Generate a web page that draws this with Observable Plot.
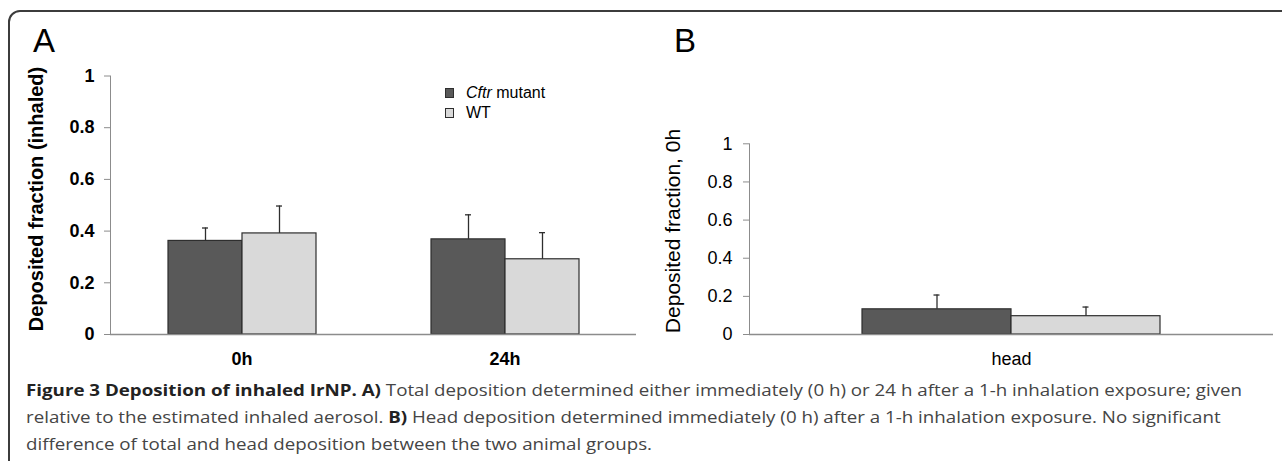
<!DOCTYPE html>
<html><head><meta charset="utf-8">
<script src="https://cdn.jsdelivr.net/npm/d3@7"></script>
<script src="https://cdn.jsdelivr.net/npm/@observablehq/plot@0.6"></script>
<style>
html,body{margin:0;padding:0;background:#fff;}
#fig{position:relative;width:1282px;height:461px;overflow:hidden;font-family:"Liberation Sans",Arial,sans-serif;background:#fff;}
#box{position:absolute;left:8px;top:10px;width:1320px;height:520px;border:2px solid #3c3c3c;border-top-left-radius:12px;box-sizing:border-box;}
.panel{position:absolute;top:0;}
.panel svg text{fill:#000;}
.letter{position:absolute;font-size:33px;line-height:33px;color:#000;}
.ytitle{position:absolute;white-space:nowrap;transform:translate(-50%,-50%) rotate(-90deg);line-height:20px;color:#000;}
.sw{position:absolute;width:9px;height:10px;border:1px solid #2e2e2e;box-sizing:border-box;}
.lt{position:absolute;font-size:16px;line-height:16px;color:#000;white-space:nowrap;}
#caption{position:absolute;left:26px;top:376px;font-family:"Open Sans",sans-serif;font-size:16.5px;line-height:27px;color:#454545;white-space:nowrap;transform-origin:0 0;}
#caption b{color:#222;font-weight:700;}
#caption .ln{display:block;}
</style>
</head><body>
<div id="fig">
  <div id="box"></div>
  <div class="letter" style="left:33px;top:24px;">A</div>
  <div class="letter" style="left:674px;top:24px;">B</div>
  <div class="ytitle" style="left:36px;top:199px;font-size:20px;font-weight:bold;">Deposited fraction (inhaled)</div>
  <div class="ytitle" style="left:673px;top:231px;font-size:21px;">Deposited fraction, 0h</div>
  <div id="panelA" class="panel" style="left:0px;"></div>
  <div id="panelB" class="panel" style="left:640px;"></div>
  <div class="sw" style="left:445px;top:88px;background:#595959;"></div>
  <div class="lt" style="left:466px;top:84.5px;"><i>Cftr</i> mutant</div>
  <div class="sw" style="left:445px;top:108px;background:#d9d9d9;"></div>
  <div class="lt" style="left:466px;top:104.5px;">WT</div>
  <div id="caption"><span class="ln"><span id="firstLine"><b>Figure 3 Deposition of inhaled IrNP. A)</b> Total deposition determined either immediately (0 h) or 24 h after a 1-h inhalation exposure; given</span></span><span class="ln">relative to the estimated inhaled aerosol. <b>B)</b> Head deposition determined immediately (0 h) after a 1-h inhalation exposure. No significant</span><span class="ln">difference of total and head deposition between the two animal groups.</span></div>
</div>
<script>
// ---- data ----
const times = ["0h", "24h"];
const genotypes = ["Cftr mutant", "WT"];
const totalMutant = [0.362, 0.368];
const totalWT = [0.391, 0.291];
const totalMutantErr = [0.050, 0.095];
const totalWTErr = [0.106, 0.103];
const regions = ["head"];
const headMutant = [0.132];
const headWT = [0.096];
const headMutantErr = [0.075];
const headWTErr = [0.048];
const yTicks = [0, 0.2, 0.4, 0.6, 0.8, 1];
const yTickLabels = ["0", "0.2", "0.4", "0.6", "0.8", "1"];
const barColors = ["#595959", "#d9d9d9"];

function rows(cats, m, w, me, we) {
  return cats.flatMap((c, i) => [
    {cat: c, g: genotypes[0], v: m[i], e: me[i]},
    {cat: c, g: genotypes[1], v: w[i], e: we[i]}
  ]);
}

function panel(o) {
  const data = o.data;
  return Plot.plot({
    width: o.width, height: o.height,
    marginLeft: o.marginLeft, marginRight: o.marginRight,
    marginTop: o.marginTop, marginBottom: o.marginBottom,
    style: {fontFamily: '"Liberation Sans", Arial, sans-serif', fontSize: "18px", fontWeight: o.weight, color: "#8c8c8c", background: "transparent", overflow: "visible"},
    facet: {data, x: "cat"},
    fx: {domain: o.cats, axis: "bottom", label: null, tickSize: 0, tickPadding: 18, padding: 0},
    x: {domain: genotypes, axis: null, paddingInner: 0, paddingOuter: o.paddingOuter, align: 0.5},
    y: {domain: [0, 1], ticks: yTicks, tickFormat: d => yTickLabels[yTicks.indexOf(d)], tickSize: 6, tickPadding: o.tickPadding, line: true, label: null},
    color: {domain: genotypes, range: barColors},
    marks: [
      Plot.barY(data, {x: "g", y: "v", fill: "g", stroke: "#2e2e2e", strokeWidth: 1.2}),
      Plot.ruleX(data, {x: "g", y1: "v", y2: d => d.v + d.e, stroke: "#2e2e2e", strokeWidth: 1.3}),
      Plot.tickY(data, {x: "g", y: d => d.v + d.e, stroke: "#2e2e2e", strokeWidth: 1.3, insetLeft: o.capInset, insetRight: o.capInset}),
      Plot.ruleY([0], {stroke: "#8c8c8c", strokeWidth: 1.3})
    ]
  });
}

document.getElementById("panelA").appendChild(panel({
  data: rows(times, totalMutant, totalWT, totalMutantErr, totalWTErr),
  cats: times, width: 645, height: 375, marginLeft: 109, marginRight: 9,
  marginTop: 75.5, marginBottom: 41, paddingOuter: 0.757, capInset: 34, weight: "bold", tickPadding: 10
}));
document.getElementById("panelB").appendChild(panel({
  data: rows(regions, headMutant, headWT, headMutantErr, headWTErr),
  cats: regions, width: 642, height: 375, marginLeft: 109, marginRight: 9,
  marginTop: 143.3, marginBottom: 41, paddingOuter: 0.747, capInset: 71.5, weight: "normal", tickPadding: 11
}));

// stretch caption horizontally so line 1 spans the same width as the reference
const fl = document.getElementById("firstLine").getBoundingClientRect().width;
if (fl > 0) document.getElementById("caption").style.transform = `scaleX(${1216 / fl})`;
</script>
</body></html>
